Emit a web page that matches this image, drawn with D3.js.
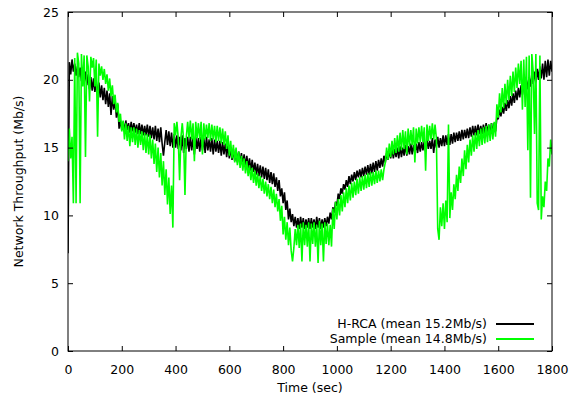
<!DOCTYPE html>
<html><head><meta charset="utf-8">
<script src="https://cdn.jsdelivr.net/npm/d3@7"></script>
<style>
body{margin:0;background:#fff}
svg{display:block}
text{font-family:"DejaVu Sans",sans-serif;font-size:12.5px;fill:#000}
</style>
</head><body>
<svg id="chart" width="571" height="398"></svg>
<script>
// ---- data (one value every 5 seconds, 0..1800 s) ----
const timeStep = 5;
const hrca = [
7.2,21.3,20.4,21.5,20.6,21.2,20.3,21.0,20.2,20.9,19.9,20.7,19.8,20.6,19.6,20.4,19.3,20.2,19.2,20.1,
19.1,19.9,18.9,19.8,18.7,19.6,18.5,19.4,18.2,19.2,18.0,19.0,17.4,18.8,17.8,18.6,17.2,18.2,16.4,17.0,
16.3,16.9,16.2,17.0,16.3,16.8,16.1,16.9,16.2,16.8,16.1,16.7,16.0,16.8,16.0,16.7,15.9,16.6,15.9,16.7,
15.8,16.6,15.7,16.5,15.6,16.6,15.5,16.4,15.4,16.5,15.3,14.4,15.4,16.3,15.2,16.2,15.1,16.1,15.0,16.0,
15.0,15.9,14.9,15.8,14.8,15.9,14.6,15.7,14.9,15.8,14.7,15.8,14.8,15.7,14.5,15.8,14.9,15.7,14.7,15.8,
14.8,15.7,14.6,15.8,14.8,15.6,14.7,15.7,14.5,15.6,14.7,15.5,14.6,15.5,14.4,15.4,14.5,15.3,14.3,15.2,
14.2,15.0,14.1,14.9,14.0,14.8,13.9,14.7,13.8,14.6,13.7,14.5,13.6,14.4,13.5,14.2,13.3,14.1,13.2,13.9,
13.0,13.8,12.9,13.7,12.8,13.6,12.7,13.5,12.6,13.4,12.4,13.2,12.3,13.1,12.1,12.8,11.8,12.6,11.4,12.0,
10.9,11.7,10.4,11.1,9.7,10.5,9.5,10.1,9.2,9.9,9.1,9.8,9.0,9.9,9.1,9.8,9.0,9.7,9.1,9.8,
9.0,9.8,9.1,9.7,9.0,9.9,9.1,9.8,9.0,9.7,9.1,9.8,9.2,9.9,9.4,10.2,9.7,10.6,10.2,11.0,
10.7,11.6,11.2,12.0,11.6,12.3,11.9,12.6,12.1,12.9,12.3,13.0,12.5,13.2,12.6,13.3,12.8,13.4,12.8,13.5,
12.9,13.6,13.0,13.7,13.0,13.8,13.1,13.9,13.2,14.0,13.3,14.1,13.5,14.2,13.6,14.4,13.9,14.6,14.1,14.8,
14.2,15.0,14.2,14.9,14.3,15.0,14.2,15.1,14.3,15.0,14.4,15.2,14.4,15.1,14.5,15.3,14.5,15.2,14.6,15.3,
14.6,15.4,14.7,15.4,14.8,15.5,14.7,15.6,14.9,15.5,14.9,15.7,14.6,15.6,15.0,15.8,15.0,15.7,15.1,15.9,
15.1,15.9,15.2,16.0,15.2,16.0,15.3,16.1,15.4,16.1,15.5,16.2,15.5,16.3,15.6,16.3,15.7,16.4,15.7,16.5,
15.8,16.6,15.9,16.6,15.9,16.7,16.0,16.6,16.0,16.7,16.0,16.8,16.1,16.7,16.0,16.8,16.1,16.8,16.2,17.2,
17.1,17.8,17.3,18.0,17.5,18.3,17.7,18.5,17.9,18.8,18.1,19.0,18.3,19.2,18.5,19.4,18.7,19.6,18.9,19.8,
19.1,20.0,19.3,20.2,19.5,20.4,19.7,20.6,19.8,20.8,20.0,21.0,20.1,21.2,20.0,21.4,20.2,21.5,20.3,21.4,
20.6
];
const sample = [
14.0,16.4,14.2,15.8,10.9,21.6,10.9,22.0,21.2,10.9,21.9,19.5,21.8,14.3,21.8,21.0,18.4,21.7,20.9,21.6,
19.5,21.5,15.8,21.2,20.3,21.0,20.0,20.8,19.7,20.4,19.2,20.1,18.8,19.6,18.2,18.9,17.6,18.3,16.9,17.5,
16.2,17.0,15.6,16.8,15.5,16.6,15.1,16.5,15.4,16.5,15.2,16.4,15.0,16.3,15.2,16.2,14.8,16.1,14.6,16.0,
14.5,15.9,14.2,15.6,13.8,15.3,13.2,15.0,12.8,14.6,12.2,14.0,11.5,13.4,10.8,12.8,10.1,12.2,9.1,16.8,
15.9,16.9,15.7,12.6,15.8,16.8,15.6,11.5,15.8,16.9,15.7,17.0,15.6,16.8,14.0,16.9,15.7,16.8,15.6,16.9,
14.5,16.8,15.6,16.7,15.7,16.8,15.5,16.7,15.6,16.6,15.4,16.6,15.5,16.5,15.3,16.4,15.2,16.2,14.9,15.9,
14.4,15.5,14.2,15.2,13.9,15.0,13.7,14.7,13.5,14.4,13.3,14.2,13.1,14.0,12.9,13.7,12.6,13.5,12.4,13.3,
12.2,13.1,12.0,12.9,11.8,12.7,11.6,12.5,11.4,12.3,11.2,12.1,10.9,11.9,10.6,11.6,10.3,11.2,9.6,10.7,
8.6,9.9,8.2,9.5,7.8,9.1,7.4,6.6,7.6,9.0,7.8,9.3,7.6,9.4,6.6,9.5,7.8,9.3,7.7,9.5,
6.6,9.4,7.9,9.5,7.7,9.3,6.5,9.6,7.8,9.4,6.6,9.5,7.9,9.4,7.8,9.3,7.7,10.5,9.0,11.0,
9.7,11.2,10.0,11.5,10.3,11.7,10.6,12.0,10.9,12.2,11.1,12.4,11.3,12.5,11.5,12.7,11.6,12.8,11.8,12.9,
11.9,13.0,12.0,13.1,12.1,13.2,12.2,13.2,12.3,13.3,12.4,13.3,12.5,13.4,12.6,13.4,13.9,15.0,14.1,15.3,
14.3,15.5,14.5,15.7,14.6,15.9,14.7,16.1,14.8,16.3,14.9,16.2,14.5,16.4,15.1,16.3,15.2,16.5,13.9,16.4,
15.3,16.5,15.4,16.6,15.4,16.5,13.3,16.7,15.5,16.6,15.6,16.8,15.6,16.7,15.7,9.0,8.2,10.6,9.2,10.9,
9.0,11.1,9.5,16.7,9.8,11.7,10.4,12.3,11.2,13.0,11.8,13.6,12.4,14.2,12.9,14.8,13.4,15.2,13.9,15.6,
14.4,15.9,14.7,16.1,14.9,16.3,15.1,16.4,15.2,16.5,15.3,16.6,15.4,16.7,15.5,16.8,15.6,16.9,15.8,18.2,
17.2,19.0,17.6,19.4,17.9,19.7,18.2,20.0,18.5,20.3,18.8,20.6,19.1,20.9,19.4,21.2,19.7,21.4,17.8,21.5,
18.0,21.7,14.8,21.8,11.3,21.9,20.6,16.0,21.9,10.9,10.4,21.8,9.7,11.4,10.6,12.5,11.8,14.2,13.6,15.6,
14.5
];
const xTicks = [0,200,400,600,800,1000,1200,1400,1600,1800];
const yTicks = [0,5,10,15,20,25];
const seriesNames = ["H-RCA (mean 15.2Mb/s)","Sample (mean 14.8Mb/s)"];
const seriesColors = ["#000000","#00ff00"];
const xLabel = "Time (sec)";
const yLabel = "Network Throughput (Mb/s)";

// ---- layout ----
const W = 571, H = 398;
const m = {left:68, right:19, top:12, bottom:47};
const iw = W - m.left - m.right, ih = H - m.top - m.bottom;
const svg = d3.select("#chart");
const g = svg.append("g").attr("transform",`translate(${m.left},${m.top})`);

const x = d3.scaleLinear().domain([0,1800]).range([0,iw]);
const y = d3.scaleLinear().domain([0,25]).range([ih,0]);

svg.append("defs").append("clipPath").attr("id","clip")
  .append("rect").attr("width",iw).attr("height",ih);

const line = d3.line().x(d=>x(d[0])).y(d=>y(d[1]));
const toPts = arr => arr.map((v,i)=>[i*timeStep, v]);

const plot = g.append("g").attr("clip-path","url(#clip)");
[hrca, sample].forEach((s,k)=>{
  plot.append("path").datum(toPts(s))
    .attr("fill","none").attr("stroke",seriesColors[k])
    .attr("stroke-width",1.6).attr("stroke-linejoin","bevel")
    .attr("d",line);
});

// axes (ticks pointing inward, mirrored on top and right)
const tickLen = 5;
const fmt = d3.format("d");
const xb = g.append("g").attr("transform",`translate(0,${ih})`)
  .call(d3.axisBottom(x).tickValues(xTicks).tickFormat(fmt).tickSizeInner(-tickLen).tickSizeOuter(0).tickPadding(14));
const yl = g.append("g")
  .call(d3.axisLeft(y).tickValues(yTicks).tickFormat(fmt).tickSizeInner(-tickLen).tickSizeOuter(0).tickPadding(9));
const xt = g.append("g")
  .call(d3.axisTop(x).tickValues(xTicks).tickSizeInner(-tickLen).tickSizeOuter(0).tickFormat(""));
const yr = g.append("g").attr("transform",`translate(${iw},0)`)
  .call(d3.axisRight(y).tickValues(yTicks).tickSizeInner(-tickLen).tickSizeOuter(0).tickFormat(""));
[xb,yl,xt,yr].forEach(a=>{
  a.select(".domain").remove();
  a.selectAll("text").attr("font-family",null).attr("font-size",null).attr("fill",null);
  a.selectAll("line").attr("stroke","#000");
});

g.append("rect").attr("width",iw).attr("height",ih)
  .attr("fill","none").attr("stroke","#000").attr("stroke-width",1);

// axis titles
svg.append("text").attr("x",m.left+iw/2).attr("y",392).attr("text-anchor","middle").text(xLabel);
svg.append("text").attr("transform",`translate(23,${m.top+ih/2}) rotate(-90)`)
  .attr("text-anchor","middle").text(yLabel);

// legend
const lg = svg.append("g");
seriesNames.forEach((n,k)=>{
  const ly = 324 + k*15;
  lg.append("text").attr("x",487).attr("y",ly).attr("dy","0.35em")
    .attr("text-anchor","end").text(n);
  lg.append("line").attr("x1",496).attr("x2",534).attr("y1",ly).attr("y2",ly)
    .attr("stroke",seriesColors[k]).attr("stroke-width",2);
});
</script>
</body></html>
